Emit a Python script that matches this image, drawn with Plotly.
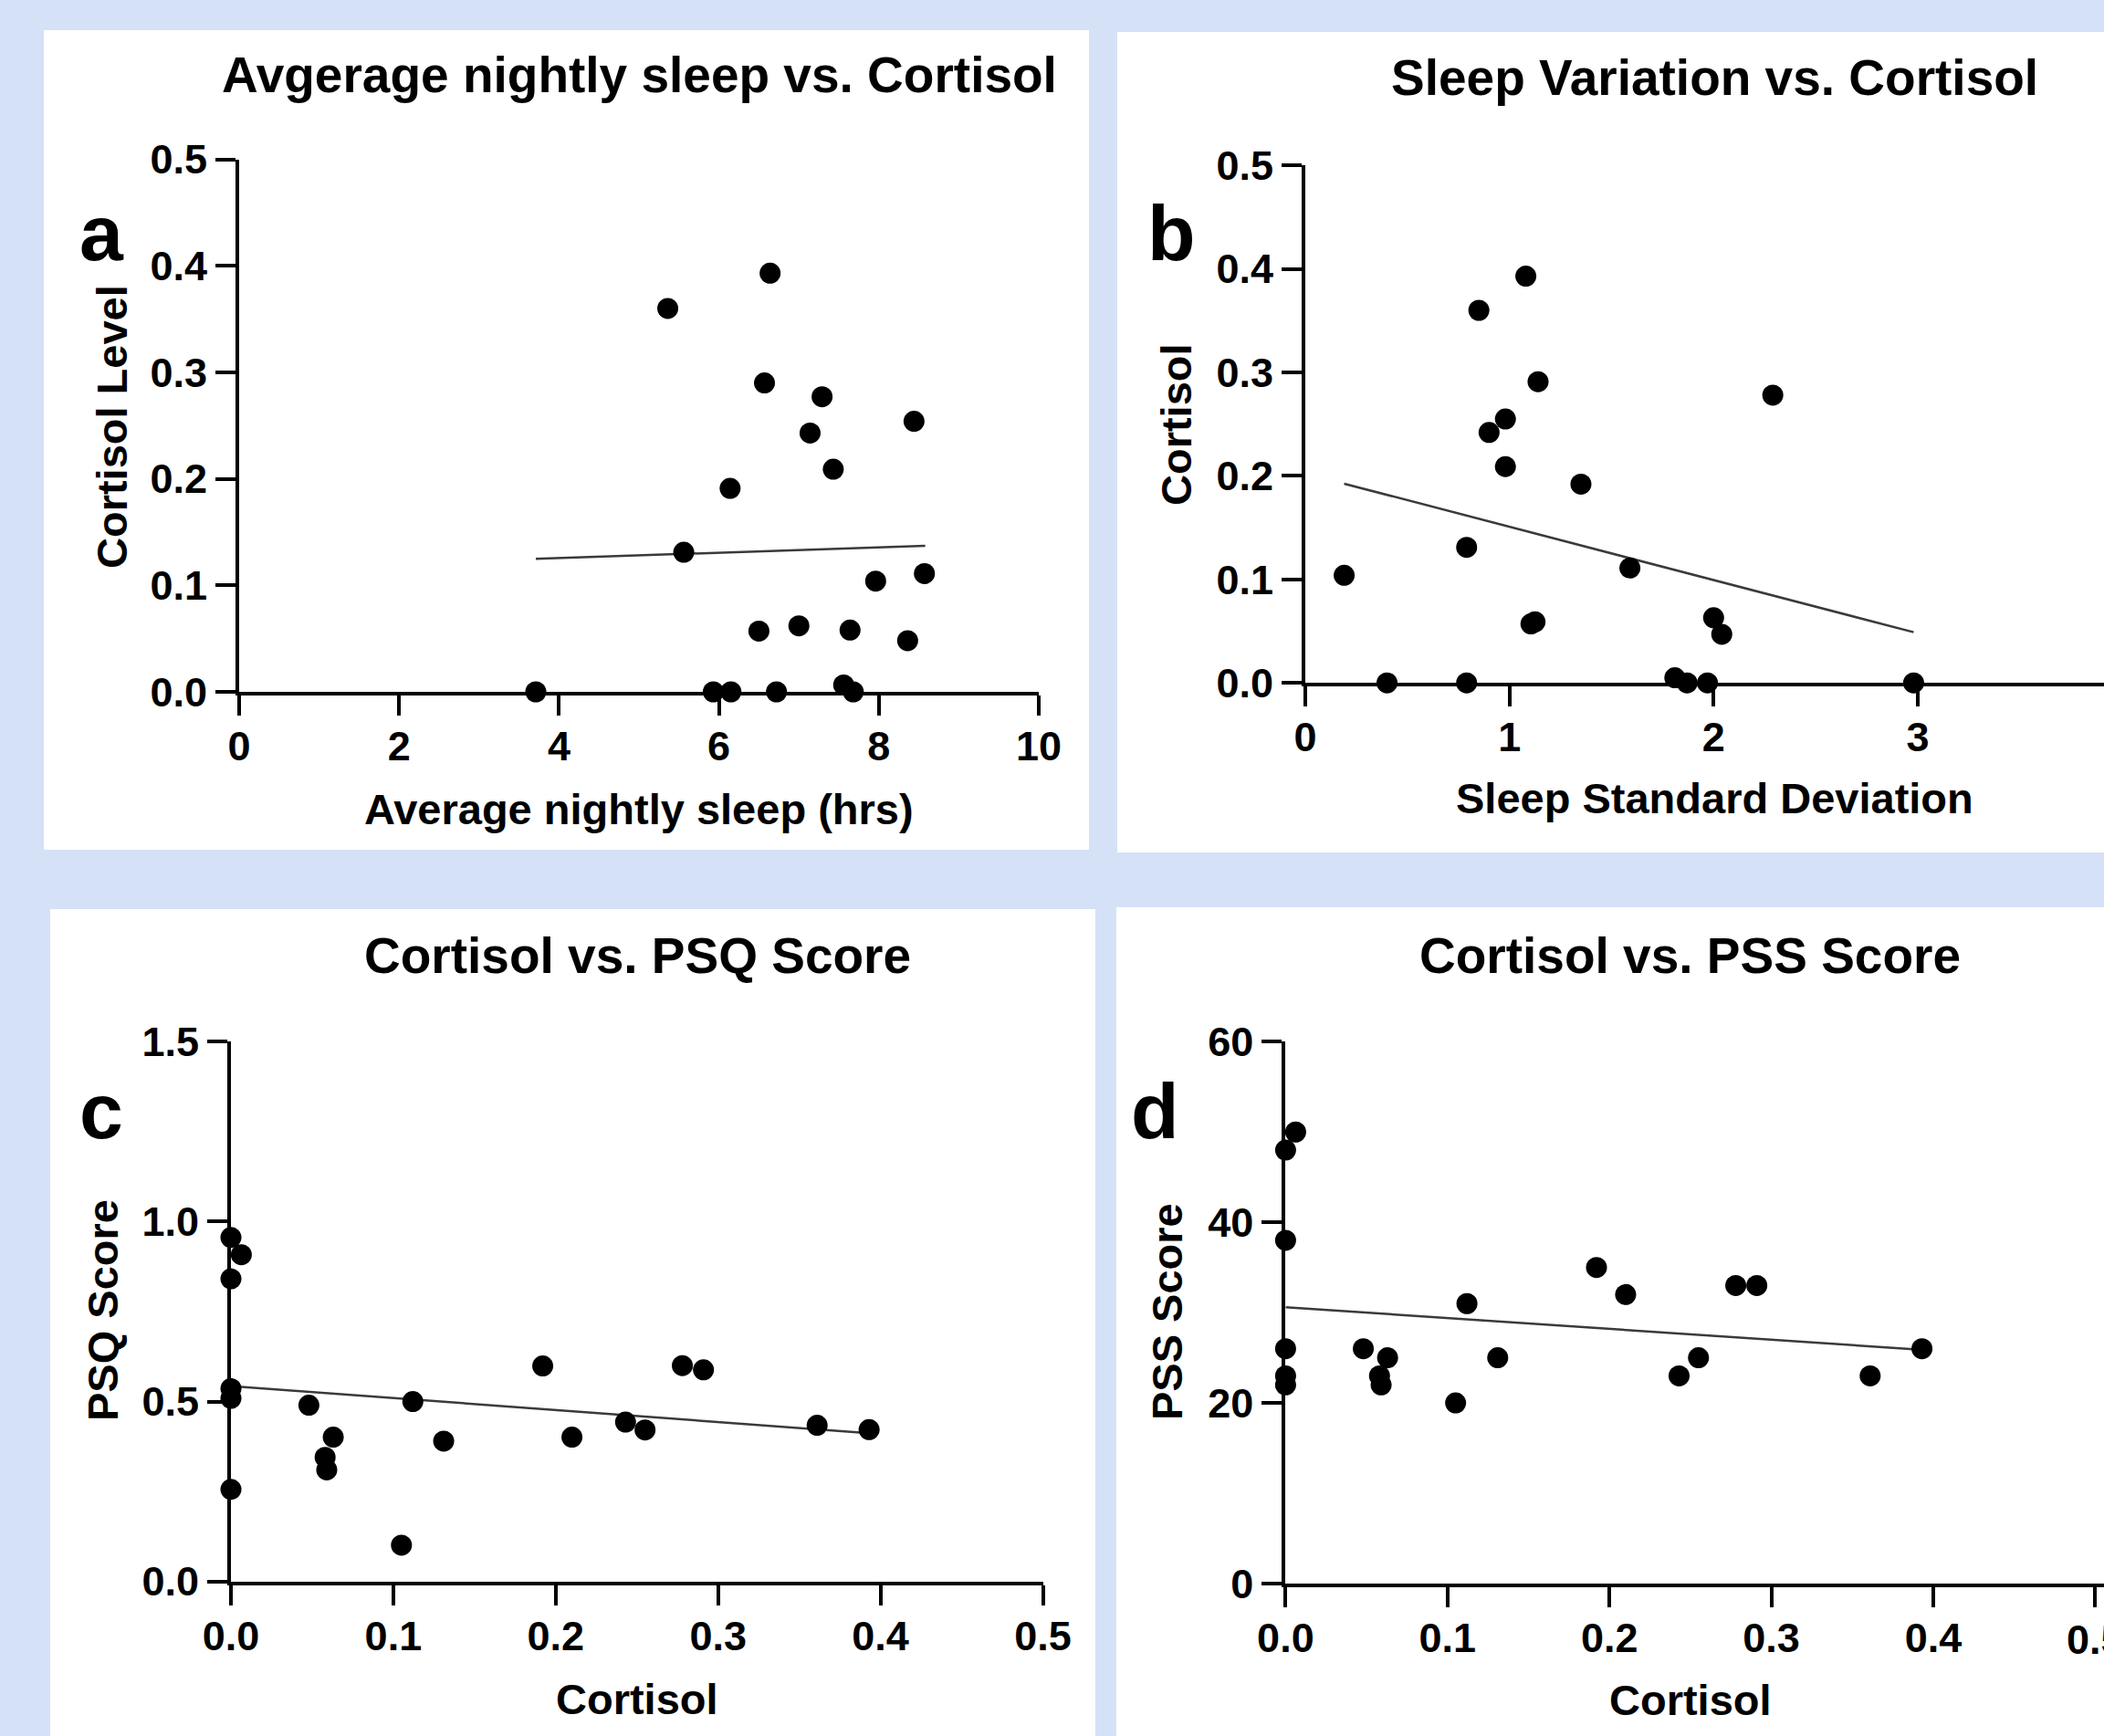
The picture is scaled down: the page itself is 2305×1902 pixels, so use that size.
import plotly.graph_objects as go

W, H = 2305, 1902

# ---------------- data ----------------
# Panel a: average nightly sleep vs cortisol
sleep_avg_a = [5.36, 6.64, 6.57, 7.29, 7.14, 8.44, 7.43, 6.14, 5.56, 7.96, 8.57,
               6.50, 7.00, 7.64, 8.36, 3.71, 5.93, 6.15, 6.72, 7.56, 7.68]
cortisol_a = [0.360, 0.393, 0.290, 0.277, 0.243, 0.254, 0.209, 0.191, 0.131, 0.104, 0.111,
              0.057, 0.062, 0.058, 0.048, 0.0, 0.0, 0.0, 0.0, 0.0065, 0.0]
fit_x_a = [3.71, 8.58]
fit_y_a = [0.125, 0.137]

# Panel b: sleep standard deviation vs cortisol
sleep_sd_b = [1.08, 0.85, 1.14, 2.29, 0.98, 0.90, 0.98, 1.35, 0.79, 0.19, 1.59,
              1.105, 1.125, 2.00, 2.04, 0.40, 0.79, 1.81, 1.87, 1.97, 2.98]
cortisol_b = [0.393, 0.360, 0.291, 0.278, 0.255, 0.242, 0.209, 0.192, 0.131, 0.104, 0.111,
              0.057, 0.059, 0.063, 0.047, 0.0, 0.0, 0.005, 0.0, 0.0, 0.0]
fit_x_b = [0.19, 2.98]
fit_y_b = [0.1925, 0.049]

# Panel c: cortisol vs PSQ score
cortisol_c = [0.0, 0.0064, 0.0, 0.0, 0.0, 0.0, 0.048, 0.063, 0.058, 0.059, 0.105,
              0.112, 0.131, 0.192, 0.210, 0.243, 0.255, 0.278, 0.291, 0.361, 0.393]
psq_c = [0.956, 0.908, 0.841, 0.536, 0.509, 0.256, 0.490, 0.401, 0.345, 0.310, 0.101,
         0.500, 0.390, 0.599, 0.401, 0.443, 0.421, 0.600, 0.588, 0.434, 0.422]
fit_x_c = [0.0, 0.393]
fit_y_c = [0.543, 0.412]

# Panel d: cortisol vs PSS score
cortisol_d = [0.0062, 0.0, 0.0, 0.0, 0.0, 0.0, 0.048, 0.063, 0.058, 0.059, 0.105,
              0.112, 0.131, 0.192, 0.210, 0.243, 0.255, 0.278, 0.291, 0.361, 0.393]
pss_d = [50, 48, 38, 26, 23, 22, 26, 25, 23, 22, 20,
         31, 25, 35, 32, 23, 25, 33, 33, 23, 26]
fit_x_d = [0.0, 0.392]
fit_y_d = [30.6, 25.9]
edge_tick_d = 0.5   # last x tick of panel d, cut by the picture's right edge

titles = ["Avgerage nightly sleep vs. Cortisol", "Sleep Variation vs. Cortisol",
          "Cortisol vs. PSQ Score", "Cortisol vs. PSS Score"]
x_titles = ["Average nightly sleep (hrs)", "Sleep Standard Deviation", "Cortisol", "Cortisol"]
y_titles = ["Cortisol Level", "Cortisol", "PSQ Score", "PSS Score"]
letters = ["a", "b", "c", "d"]

# ---------------- layout helpers ----------------
def fx(p):
    return p / W

def fy(p):
    return 1 - p / H

FONT = "Liberation Sans, Arial, Helvetica, sans-serif"
BG = "#D5E1F6"
TICK_SIZE = 45

panels = [
    dict(x=sleep_avg_a, y=cortisol_a, fx=fit_x_a, fy=fit_y_a,
         dom_x=(262, 1138), dom_y=(758, 174.5),
         xr=[0, 10], xt=2, xf="d", yr=[0, 0.5], yt=0.1, yf=".1f",
         box=(48, 33, 1193, 931),
         title=(700, 82), xtitle=(700, 886), ytitle=(122, 468), letter=(111, 255)),
    dict(x=sleep_sd_b, y=cortisol_b, fx=fit_x_b, fy=fit_y_b,
         dom_x=(1430.1, 2305), dom_y=(748.2, 181.25),
         xr=[0, (2305 - 1430.1) / 223.6], xt=1, xf="d", yr=[0, 0.5], yt=0.1, yf=".1f",
         box=(1224, 35, 2305, 934),
         title=(1878, 85), xtitle=(1878, 874), ytitle=(1288, 465), letter=(1283, 255)),
    dict(x=cortisol_c, y=psq_c, fx=fit_x_c, fy=fit_y_c,
         dom_x=(253, 1142.5), dom_y=(1732.7, 1141.3),
         xr=[0, 0.5], xt=0.1, xf=".1f", yr=[0, 1.5], yt=0.5, yf=".1f",
         box=(55, 996, 1200, 1902),
         title=(698, 1047), xtitle=(698, 1861), ytitle=(112, 1436), letter=(111, 1217)),
    dict(x=cortisol_d, y=pss_d, fx=fit_x_d, fy=fit_y_d,
         dom_x=(1408.4, 2305), dom_y=(1735, 1141.3),
         xr=[0, (2305 - 1408.4) / 1774.0], xt=0.1, xf=".1f", yr=[0, 60], yt=20, yf="d",
         box=(1223, 994, 2305, 1902),
         title=(1851, 1047), xtitle=(1852, 1862), ytitle=(1278, 1437), letter=(1265, 1217)),
]

fig = go.Figure()
shapes = []
annotations = []
layout_axes = {}


def ann(text, pos, size, angle=0):
    return dict(text=text, xref="paper", yref="paper", x=fx(pos[0]), y=fy(pos[1]),
                xanchor="center", yanchor="middle", showarrow=False, textangle=angle,
                font=dict(family=FONT, size=size, color="black", weight="bold"))


for i, p in enumerate(panels):
    n = i + 1
    xa = "x" if n == 1 else f"x{n}"
    ya = "y" if n == 1 else f"y{n}"
    fig.add_trace(go.Scatter(
        x=p["fx"], y=p["fy"], mode="lines", xaxis=xa, yaxis=ya,
        line=dict(color="#3a3a3a", width=2.5), showlegend=False, hoverinfo="skip"))
    fig.add_trace(go.Scatter(
        x=p["x"], y=p["y"], mode="markers", xaxis=xa, yaxis=ya, cliponaxis=False,
        marker=dict(color="black", size=23, line=dict(width=0)), showlegend=False))

    common = dict(showline=True, linecolor="black", linewidth=4, ticks="outside",
                  ticklen=22, tickwidth=4, tickcolor="black", showgrid=False,
                  zeroline=False, fixedrange=True, automargin=False,
                  tickfont=dict(family=FONT, size=TICK_SIZE, color="black", weight="bold"))
    layout_axes[f"xaxis{'' if n == 1 else n}"] = dict(
        domain=[fx(p["dom_x"][0]), fx(p["dom_x"][1])], range=p["xr"],
        anchor=ya, tick0=0, dtick=p["xt"], tickformat=p["xf"],
        ticklabelstandoff=-5, **common)
    layout_axes[f"yaxis{'' if n == 1 else n}"] = dict(
        domain=[fy(p["dom_y"][0]), fy(p["dom_y"][1])], range=p["yr"],
        anchor=xa, tick0=0, dtick=p["yt"], tickformat=p["yf"], **common)

    x0, y0, x1, y1 = p["box"]
    shapes.append(dict(type="rect", xref="paper", yref="paper", layer="below",
                       x0=fx(x0), x1=fx(x1), y0=fy(y1), y1=fy(y0),
                       fillcolor="white", line=dict(width=0)))

    annotations.append(ann(titles[i], p["title"], 55))
    annotations.append(ann(x_titles[i], p["xtitle"], 47))
    annotations.append(ann(y_titles[i], p["ytitle"], 47, -90))
    annotations.append(ann(letters[i], p["letter"], 86))

# the last tick label of panel d sits on the picture edge (partly cut off)
annotations.append(dict(text=f"{edge_tick_d:.1f}", xref="x4", yref="paper",
                        x=edge_tick_d, y=fy(1796), xanchor="center", yanchor="middle",
                        showarrow=False,
                        font=dict(family=FONT, size=TICK_SIZE, color="black", weight="bold")))

fig.update_layout(
    template="none",
    width=W, height=H, autosize=False,
    margin=dict(l=0, r=0, t=0, b=0, pad=0),
    paper_bgcolor=BG, plot_bgcolor="white",
    shapes=shapes, annotations=annotations,
    **layout_axes)

fig.write_html("out.html", config={"displayModeBar": False},
               post_script="document.body.style.margin='0px';"
                           "document.body.style.overflow='hidden';")
